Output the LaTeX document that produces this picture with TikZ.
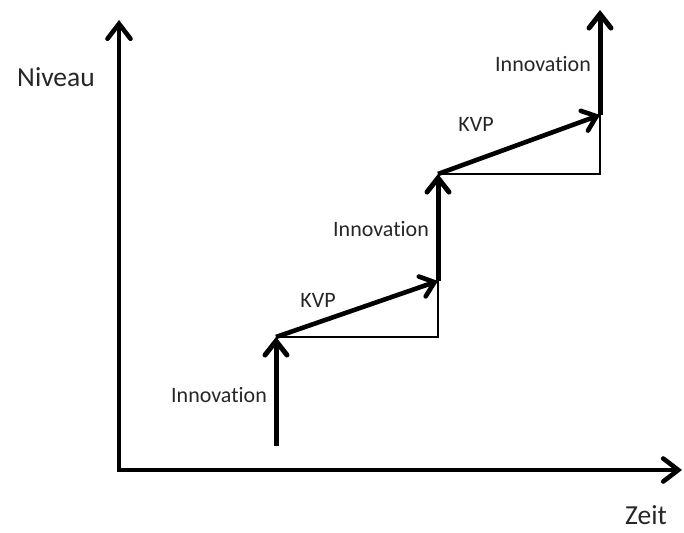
\documentclass[tikz,border=0pt]{standalone}
\usepackage{fontspec}
\setmainfont{Carlito}[Ligatures=NoCommon]
\usetikzlibrary{arrows.meta}
\begin{document}
\begin{tikzpicture}[x=1pt,y=-1pt,
  axis/.style={line width=4.6pt,-{Straight Barb[length=15pt,width=23pt,line cap=round]}},
  jump/.style={line width=5pt,-{Straight Barb[length=14pt,width=22pt,line cap=round]}},
  kvp/.style={line width=4.6pt,-{Straight Barb[length=13pt,width=21pt,line cap=round]}},
  guide/.style={line width=1.4pt},
  lbl/.style={font=\fontsize{22}{26}\selectfont,text=black!85,inner sep=0pt,anchor=base},
  axlbl/.style={lbl,font=\fontsize{27.5}{32}\selectfont}]
  \useasboundingbox (0,0) rectangle (684,532);
  % axes
  \coordinate (O) at (119,470);
  \coordinate (ytip) at (119,20);
  \coordinate (xtip) at (682,470);
  \draw[axis] (119,472) -- (ytip);
  \draw[axis] (117,470) -- (xtip);
  % step points
  \coordinate (a0) at (276,446);
  \coordinate (a1) at (276,337);
  \coordinate (b0) at (438,281);
  \coordinate (b1) at (438,174);
  \coordinate (c0) at (600,115);
  \coordinate (c1) at (600,10);
  % thin helper lines
  \draw[guide] (a1) -| (b0);
  \draw[guide] (b1) -| (c0);
  % innovation jumps
  \draw[jump] (a0) -- (a1);
  \draw[jump] (b0) -- (b1);
  \draw[jump] (c0) -- (c1);
  % continuous improvement
  \draw[kvp] (a1) -- (b0);
  \draw[kvp] (b1) -- (c0);
  % labels
  \node[axlbl] (niveau) at (56,87) {Niveau};
  \node[axlbl] (zeit) at (646,524) {Zeit};
  \node[lbl] (inn1) at (219,402) {Innovation};
  \node[lbl] (kvp1) at (318,307) {KVP};
  \node[lbl] (inn2) at (381,236) {Innovation};
  \node[lbl] (kvp2) at (476,131) {KVP};
  \node[lbl] (inn3) at (543,72) {Innovation};
\end{tikzpicture}
\end{document}
